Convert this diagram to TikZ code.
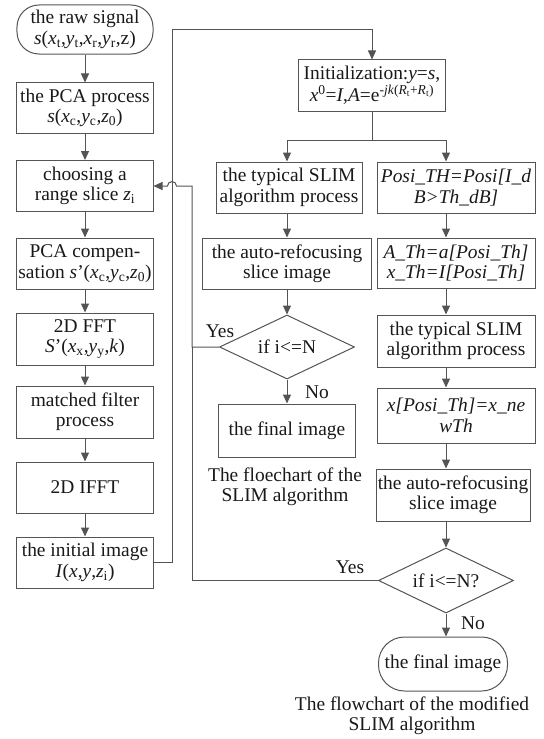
\documentclass[tikz,border=0pt]{standalone}
\usepackage{fontspec}
\setmainfont{Liberation Serif}
\usepackage{tikz}
\usetikzlibrary{positioning}
\usetikzlibrary{calc}
\usetikzlibrary{shapes.geometric}
\usetikzlibrary{arrows.meta}
\definecolor{linegray}{gray}{0.33}
\newcommand{\iv}[1]{\textit{#1}}
\newcommand{\lo}[1]{\textsubscript{#1}}

\begin{document}
\begin{tikzpicture}[x=1bp, y=-1bp,
  every node/.style={font=\fontsize{19.5}{20.5}\selectfont, text=black!90},
  box/.style={draw=linegray, line width=1bp, inner sep=0pt, align=center, minimum height=51bp},
  term/.style={box, rounded corners=22bp},
  choice/.style={draw=linegray, line width=1bp, diamond, aspect=2, inner sep=0pt, minimum width=135bp, minimum height=64bp},
  link/.style={draw=linegray, line width=1bp},
  flow/.style={link, -{Triangle[length=9bp, width=8bp]}}]

\useasboundingbox (0, 0) rectangle (544, 739);

\node[term, minimum width=136bp, minimum height=49bp] (raw) at (85, 29.5) {the raw signal\\\iv{s}(\iv{x}\lo{t},\iv{y}\lo{t},\iv{x}\lo{r},\iv{y}\lo{r},z)};
\node[box, minimum width=136bp, minimum height=50bp] (pca) at (85, 108) {the PCA process\\\iv{s}(\iv{x}\lo{c},\iv{y}\lo{c},\iv{z}\lo{0})};
\node[box, minimum width=136bp] (choose) at (85, 186) {choosing a\\range slice \iv{z}\lo{i}};
\node[box, minimum width=136bp] (comp) at (85, 263.5) {PCA compen-\\sation \iv{s}’(\iv{x}\lo{c},\iv{y}\lo{c},\iv{z}\lo{0})};
\node[box, minimum width=136bp, minimum height=52bp] (fft) at (85, 339) {2D FFT\\\iv{S}’(\iv{x}\lo{x},\iv{y}\lo{y},\iv{k})};
\node[box, minimum width=136bp, minimum height=52bp] (filter) at (85, 412) {matched filter\\process};
\node[box, minimum width=136bp] (ifft) at (85, 487.5) {2D IFFT};
\node[box, minimum width=136bp] (init) at (85, 562.5) {the initial image\\\iv{I}(\iv{x},\iv{y},\iv{z}\lo{i})};

\node[box, minimum width=147bp] (ini) at (372, 85.5) {Initialization:\iv{y}=\iv{s},\\\iv{x}\textsuperscript{0}=\iv{I},\iv{A}=e\textsuperscript{-\iv{jk}(\iv{R}\lo{t}+\iv{R}\lo{t})}};

\node[box, minimum width=146bp] (slim1) at (289, 187.5) {the typical SLIM\\algorithm process};
\node[box, minimum width=169bp] (auto1) at (287, 263.5) {the auto-refocusing\\slice image};
\node[choice] (dia1) at (287, 347) {if i<=N};
\node[box, minimum width=137bp, minimum height=53bp] (final1) at (287, 430.5) {the final image};
\node[align=center] (cap1) at (285, 487) {The floechart of the\\SLIM algorithm};

\node[box, minimum width=158bp] (posi) at (456, 187.5) {\iv{Posi\_TH=Posi[I\_d}\\\iv{B>Th\_dB]}};
\node[box, minimum width=158bp, minimum height=50bp] (atho) at (456, 263) {\iv{A\_Th=a[Posi\_Th]}\\\iv{x\_Th=I[Posi\_Th]}};
\node[box, minimum width=158bp, minimum height=52bp] (slim2) at (456, 341) {the typical SLIM\\algorithm process};
\node[box, minimum width=158bp, minimum height=55bp] (xpos) at (456, 415.5) {\iv{x[Posi\_Th]=x\_ne}\\\iv{wTh}};
\node[box, minimum width=154bp, minimum height=52bp] (auto2) at (453, 495) {the auto-refocusing\\slice image};
\node[choice, minimum height=65bp] (dia2) at (446, 580.5) {if i<=N?};
\node[term, minimum width=129bp, minimum height=54bp, rounded corners=26bp] (final2) at (443, 664) {the final image};
\node[align=center] (cap2) at (412, 715.5) {The flowchart of the modified\\SLIM algorithm};

\node[] (yes1) at (220, 331) {Yes};
\node[] (no1) at (317, 392) {No};
\node[] (yes2) at (350, 567) {Yes};
\node[] (no2) at (473, 623) {No};

\coordinate (up) at (172, 30);
\coordinate (split) at (372, 140);
\coordinate (fbmid) at (192, 347);
\coordinate (fbtop) at (192, 186);
\coordinate (hopR) at (176.5, 186);

\draw[flow] (raw.south) to (pca.north);
\draw[flow] (pca.south) to (choose.north);
\draw[flow] (choose.south) to (comp.north);
\draw[flow] (comp.south) to (fft.north);
\draw[flow] (fft.south) to (filter.north);
\draw[flow] (filter.south) to (ifft.north);
\draw[flow] (ifft.south) to (init.north);

\draw[flow] (init.east) -| (up) -| (ini.north);
\draw[link] (ini.south) to (split);
\draw[flow] (split) -| (slim1.north -| auto1.north);
\draw[flow] (split) -| (posi.north -| dia2.north);

\draw[flow] (slim1.south -| auto1.south) to (auto1.north);
\draw[flow] (auto1.south) to (dia1.north);
\draw[flow] (dia1.south) to (final1.north);

\draw[flow] (posi.south -| dia2.north) to (atho.north -| dia2.north);
\draw[flow] (atho.south -| dia2.north) to (slim2.north -| dia2.north);
\draw[flow] (slim2.south -| dia2.north) to (xpos.north -| dia2.north);
\draw[flow] (xpos.south -| dia2.north) to (auto2.north -| dia2.north);
\draw[flow] (auto2.south -| dia2.north) to (dia2.north);
\draw[flow] (dia2.south) to (final2.north -| dia2.south);

\draw[link] (dia2.west) -| (fbmid);
\draw[flow] (dia1.west) -- (fbmid) -- (fbtop) -- (hopR) arc[start angle=0, end angle=180, radius=4.5bp] -- (choose.east);

\end{tikzpicture}
\end{document}
